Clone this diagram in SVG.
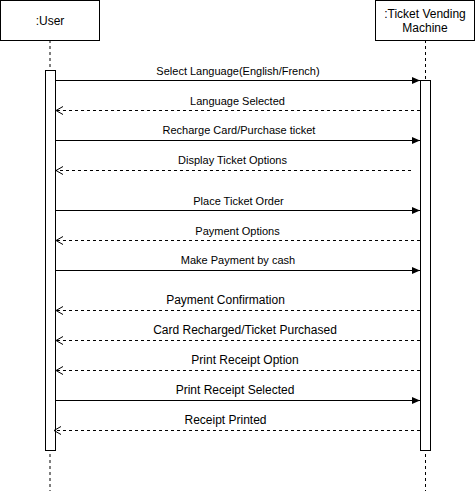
<svg xmlns="http://www.w3.org/2000/svg" width="476" height="491" viewBox="0 0 476 491">
<style>
text{font-family:"Liberation Sans",Arial,Helvetica,sans-serif;fill:#000;text-anchor:middle}
.s{font-size:11px}
.m{font-size:12px}
.box{fill:#fff;stroke:#000;stroke-width:1}
.life{stroke:#000;stroke-dasharray:3 3;fill:none}
.call{stroke:#000;fill:none;marker-end:url(#fill)}
.ret{stroke:#000;fill:none;stroke-dasharray:3 3;marker-end:url(#open)}
</style>
<defs>
<marker id="fill" markerWidth="10" markerHeight="10" refX="8" refY="4" orient="auto" markerUnits="userSpaceOnUse">
<path d="M0,0.5 L8,4 L0,7.5 Z" fill="#000"/>
</marker>
<marker id="open" markerWidth="12" markerHeight="12" refX="8" refY="5" orient="auto" markerUnits="userSpaceOnUse">
<path d="M1,1 L8,5 L1,9" fill="none" stroke="#000"/>
</marker>
</defs>
<g id="user">
<line class="life" x1="50" y1="40" x2="50" y2="491"/>
<rect class="box" x="0.5" y="0.5" width="99" height="40"/>
<text class="m" x="50" y="25">:User</text>
<rect class="box" x="45.5" y="70.5" width="10" height="380"/>
</g>
<g id="machine">
<line class="life" x1="425.5" y1="40" x2="425.5" y2="491"/>
<rect class="box" x="375.5" y="0.5" width="99" height="40"/>
<text class="m" x="425" y="18">:Ticket Vending</text>
<text class="m" x="425" y="32">Machine</text>
<rect class="box" x="420.5" y="80.5" width="10" height="370"/>
</g>
<g id="connectors">
<line class="call" x1="56" y1="80.5" x2="420" y2="80.5"/>
<text class="s" x="238" y="75">Select Language(English/French)</text>
<line class="ret" x1="420" y1="110.5" x2="56" y2="110.5"/>
<text class="s" x="237.5" y="105">Language Selected</text>
<line class="call" x1="56" y1="140.5" x2="420" y2="140.5"/>
<text class="s" x="239" y="134">Recharge Card/Purchase ticket</text>
<line class="ret" x1="411" y1="170.5" x2="56" y2="170.5"/>
<text class="s" x="232.5" y="164">Display Ticket Options</text>
<line class="call" x1="56" y1="210.5" x2="420" y2="210.5"/>
<text class="s" x="238.5" y="205">Place Ticket Order</text>
<line class="ret" x1="420" y1="240.5" x2="56" y2="240.5"/>
<text class="s" x="237.5" y="235">Payment Options</text>
<line class="call" x1="56" y1="270.5" x2="420" y2="270.5"/>
<text class="s" x="238" y="264">Make Payment by cash</text>
<line class="ret" x1="420" y1="310.5" x2="56" y2="310.5"/>
<text class="m" x="225.5" y="304">Payment Confirmation</text>
<line class="ret" x1="420" y1="340.5" x2="56" y2="340.5"/>
<text class="m" x="245" y="334">Card Recharged/Ticket Purchased</text>
<line class="ret" x1="420" y1="370.5" x2="56" y2="370.5"/>
<text class="m" x="245" y="364">Print Receipt Option</text>
<line class="call" x1="56" y1="400.5" x2="420" y2="400.5"/>
<text class="m" x="235" y="394">Print Receipt Selected</text>
<line class="ret" x1="420" y1="430.5" x2="54" y2="430.5"/>
<text class="m" x="225.5" y="424">Receipt Printed</text>
</g>
</svg>
